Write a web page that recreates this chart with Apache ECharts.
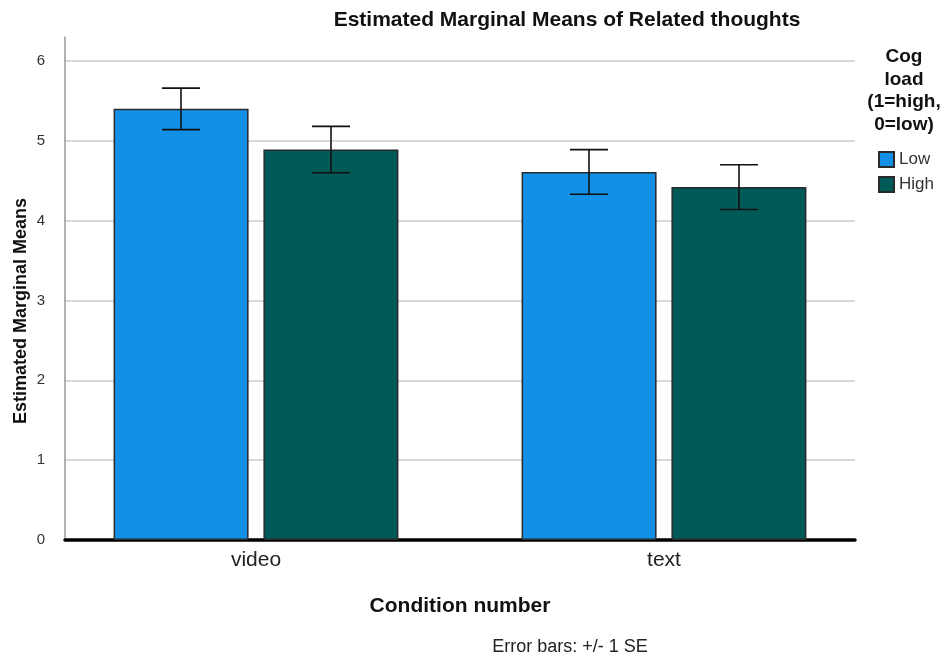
<!DOCTYPE html>
<html>
<head>
<meta charset="utf-8">
<script src="https://cdn.jsdelivr.net/npm/echarts@6/dist/echarts.min.js"></script>
<style>
  html, body { margin: 0; padding: 0; background: #fff; }
  #chart { width: 949px; height: 657px; }
</style>
</head>
<body>
<div id="chart"></div>
<script>
// data
const categories = ['video', 'text']
const lowMeans = [5.40, 4.61]
const highMeans = [4.89, 4.42]
const lowSE = [0.26, 0.28]
const highSE = [0.29, 0.28]
const yTicks = [0, 1, 2, 3, 4, 5, 6]

const FONT = '"Liberation Sans", Arial, sans-serif'
const BAR_W = 135
const HALF_STEP = 75 // half of bar width + gap

function errorData(means, se) {
   return means.map((m, i) => [i, m - se[i], m + se[i]])
}

function errorSeries(name, data, shift) {
   return {
      name: name + ' SE',
      type: 'custom',
      xAxisIndex: 0,
      yAxisIndex: 0,
      z: 5,
      silent: true,
      data: data,
      renderItem: (params, api) => {
         let lo = api.coord([api.value(0), api.value(1)])
         let hi = api.coord([api.value(0), api.value(2)])
         let x = lo[0] + shift
         let cap = 19
         let style = { stroke: '#111', lineWidth: 1.6 }
         return {
            type: 'group',
            children: [
               { type: 'line', shape: { x1: x, y1: lo[1], x2: x, y2: hi[1] }, style: style },
               { type: 'line', shape: { x1: x - cap, y1: lo[1], x2: x + cap, y2: lo[1] }, style: style },
               { type: 'line', shape: { x1: x - cap, y1: hi[1], x2: x + cap, y2: hi[1] }, style: style }
            ]
         }
      }
   }
}

let myChart = echarts.init(document.getElementById('chart'))
let option = {
   animation: false,
   title: {
      text: 'Estimated Marginal Means of Related thoughts',
      left: 562,
      top: 5,
      textAlign: 'center',
      textStyle: { fontFamily: FONT, fontSize: 21, fontWeight: 'bold', color: '#111' }
   },
   legend: {
      orient: 'vertical',
      left: 873,
      top: 146,
      itemWidth: 15,
      itemHeight: 15,
      itemGap: 8,
      icon: 'rect',
      data: ['Low', 'High'],
      textStyle: { fontFamily: FONT, fontSize: 17, color: '#333', padding: [0, 0, 0, 0] }
   },
   graphic: [
      {
         type: 'text',
         x: 904,
         y: 46,
         style: {
            text: 'Cog\nload\n(1=high,\n0=low)',
            align: 'center',
            verticalAlign: 'top',
            font: 'bold 19px "Liberation Sans", Arial, sans-serif',
            lineHeight: 22.5,
            fill: '#111'
         }
      },
      {
         type: 'text',
         x: 21,
         y: 311,
         rotation: Math.PI / 2,
         style: {
            text: 'Estimated Marginal Means',
            align: 'center',
            verticalAlign: 'middle',
            font: 'bold 18px "Liberation Sans", Arial, sans-serif',
            fill: '#111'
         }
      },
      {
         type: 'text',
         x: 570,
         y: 647,
         style: {
            text: 'Error bars: +/- 1 SE',
            align: 'center',
            verticalAlign: 'middle',
            font: '18px "Liberation Sans", Arial, sans-serif',
            fill: '#222'
         }
      }
   ],
   grid: [
      { left: 52, right: 81, top: 37, bottom: 117 },
      { left: 65, right: 94, top: 37, bottom: 117 }
   ],
   xAxis: [
      {
         type: 'category',
         gridIndex: 0,
         data: categories,
         axisLine: { show: false },
         axisTick: { show: false },
         axisLabel: { fontFamily: FONT, fontSize: 21, color: '#222', margin: 10 },
         name: 'Condition number',
         nameLocation: 'middle',
         nameGap: 56,
         nameTextStyle: { fontFamily: FONT, fontSize: 21, fontWeight: 'bold', color: '#111' }
      },
      {
         type: 'value',
         gridIndex: 1,
         min: 0,
         max: 1,
         axisLine: { show: true, onZero: false, lineStyle: { color: '#000', width: 3.5 } },
         axisTick: { show: false },
         axisLabel: { show: false },
         splitLine: { show: false }
      }
   ],
   yAxis: [
      {
         type: 'value',
         gridIndex: 0,
         min: 0,
         max: 6.3,
         show: false
      },
      {
         type: 'value',
         gridIndex: 1,
         min: 0,
         max: 6.3,
         interval: 1,
         z: 0,
         axisLine: { show: true, onZero: false, lineStyle: { color: '#999', width: 1.5 } },
         axisTick: { show: false },
         axisLabel: {
            fontFamily: FONT,
            fontSize: 15,
            color: '#333',
            margin: 20,
            formatter: v => (yTicks.indexOf(v) >= 0 ? String(v) : '')
         },
         splitLine: {
            show: true,
            lineStyle: {
               color: ['#ccc', '#ccc', '#ccc', '#ccc', '#ccc', '#ccc', '#ccc', 'rgba(0,0,0,0)'],
               width: 1.5
            }
         }
      }
   ],
   series: [
      {
         name: 'Low',
         type: 'bar',
         xAxisIndex: 0,
         yAxisIndex: 0,
         data: lowMeans,
         barWidth: BAR_W,
         barGap: '11%',
         z: 3,
         itemStyle: { color: '#1290e6', borderColor: '#2a2a2a', borderWidth: 1.5 }
      },
      {
         name: 'High',
         type: 'bar',
         xAxisIndex: 0,
         yAxisIndex: 0,
         data: highMeans,
         barWidth: BAR_W,
         z: 3,
         itemStyle: { color: '#005a58', borderColor: '#2a2a2a', borderWidth: 1.5 }
      },
      errorSeries('Low', errorData(lowMeans, lowSE), -HALF_STEP),
      errorSeries('High', errorData(highMeans, highSE), HALF_STEP)
   ]
}
myChart.setOption(option)
</script>
</body>
</html>
